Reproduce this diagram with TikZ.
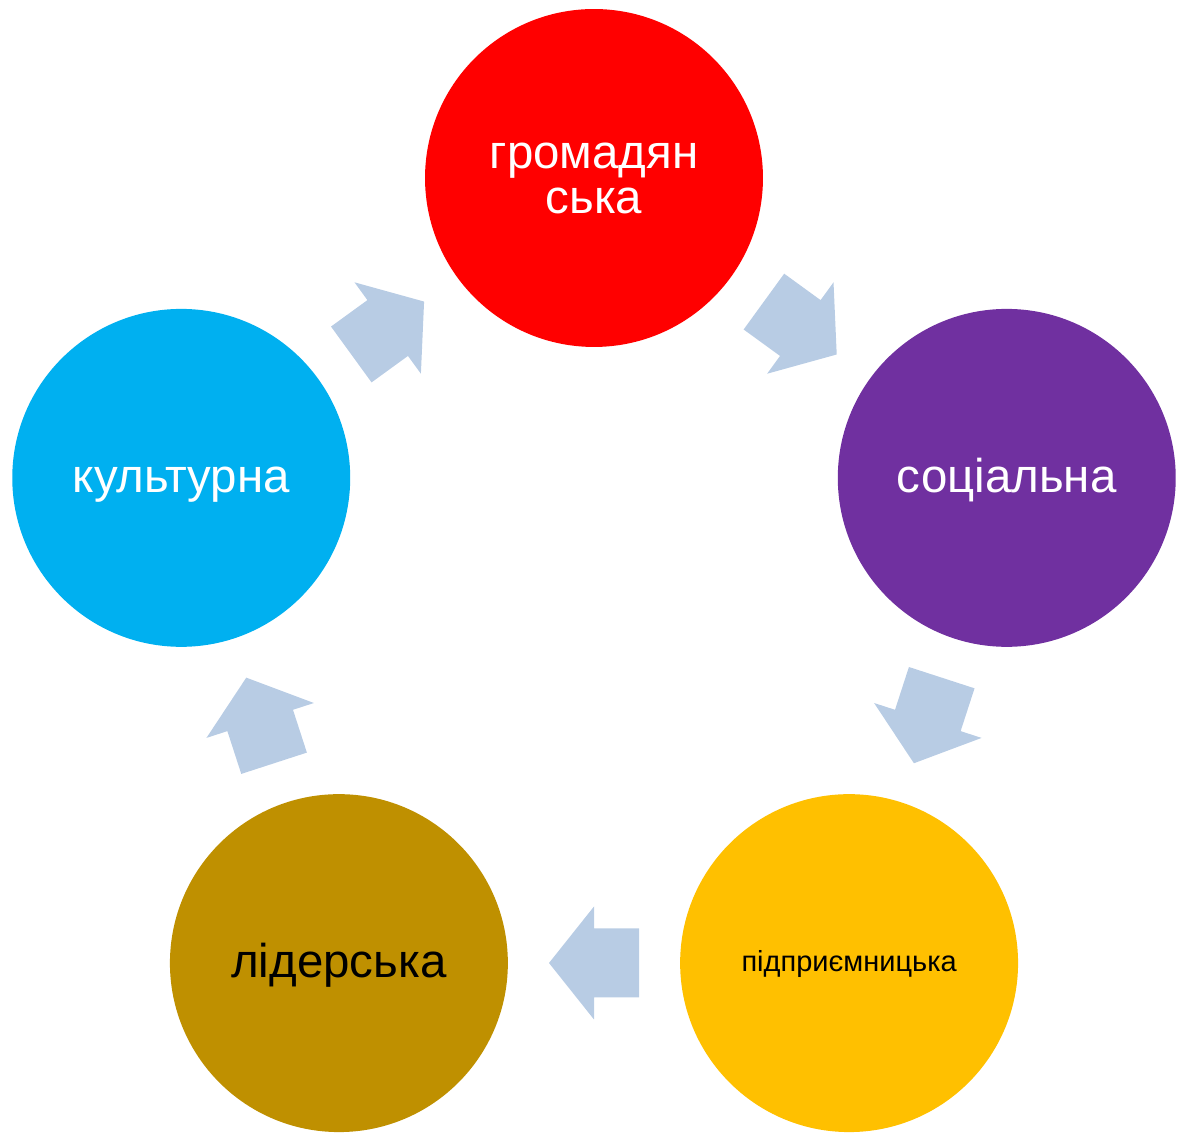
\documentclass[tikz,border=0pt]{standalone}
\usepackage{fontspec}
\setmainfont{Liberation Sans}
\usetikzlibrary{calc}
\definecolor{arrowblue}{HTML}{B8CCE4}
\definecolor{violet}{HTML}{7030A0}
\definecolor{amber}{HTML}{FFC000}
\definecolor{olive}{HTML}{BF9000}
\definecolor{sky}{HTML}{00B0F0}
\tikzset{
  stage/.style={circle,minimum size=6.76cm,inner sep=0pt,align=center,
    font=\fontsize{27}{25.6}\selectfont},
  oneline/.style={text height=21.6pt,text depth=5.4pt},
  cyclearrow/.style={fill=arrowblue,draw=none},
}

\begin{document}
\begin{tikzpicture}[x=0.02cm,y=0.02cm]
  \useasboundingbox (0,0) rectangle (1181,1133);
  \coordinate (c) at (594,521);
  % stages
  \node[stage,fill=red,text=white]            (civic)   at ($(c)+(90:434)$)   {громадян\\ська};
  \node[stage,oneline,fill=violet,text=white] (social)  at ($(c)+(18:434)$)   {соціальна};
  \node[stage,fill=amber,text=black,font=\fontsize{16.5}{19}\selectfont,
        text height=13.2pt,text depth=3.3pt]  (entre)   at ($(c)+(-54:434)$)  {підприємницька};
  \node[stage,oneline,fill=olive,text=black]  (leader)  at ($(c)+(-126:434)$) {лідерська};
  \node[stage,oneline,fill=sky,text=white]    (culture) at ($(c)+(162:434)$)  {культурна};
  % arrows
  \foreach \a in {54,-18,-90,-162,126}
    \fill[cyclearrow,shift={($(c)+(\a:351)$)},rotate=\a-90]
      (-45,-34.5) -- (0,-34.5) -- (0,-56.5) -- (45,0) -- (0,56.5) -- (0,34.5) -- (-45,34.5) -- cycle;
\end{tikzpicture}
\end{document}
